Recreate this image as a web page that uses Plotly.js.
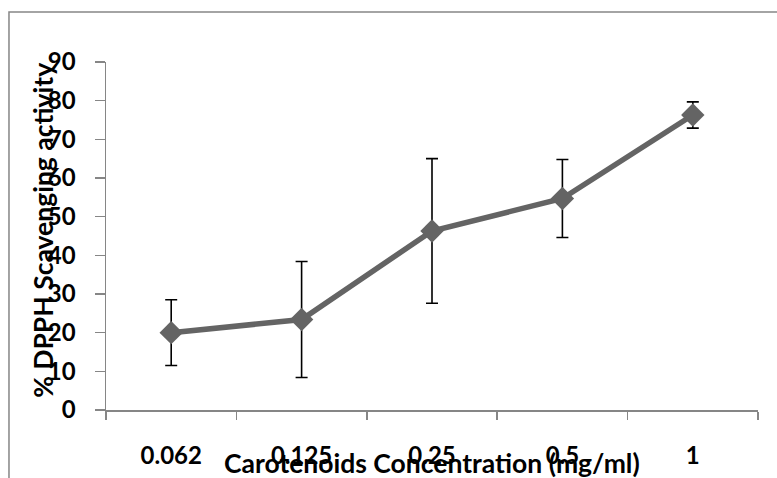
<!DOCTYPE html>
<html><head><meta charset="utf-8">
<script src="https://cdn.plot.ly/plotly-3.0.1.min.js"></script>
<style>html,body{margin:0;padding:0;background:#fff}#chart{width:777px;height:478px}</style>
</head><body><div id="chart"></div>
<script>
const categories = ['0.062', '0.125', '0.25', '0.5', '1'];
const scavenging = [20.0, 23.4, 46.3, 54.7, 76.3];
const errors = [8.5, 15.0, 18.7, 10.1, 3.4];
const yTicks = [0, 10, 20, 30, 40, 50, 60, 70, 80, 90];
const xTitle = 'Carotenoids Concentration (mg/ml)';
const yTitle = '% DPPH Scavenging activity';

const font = 'Lato, "Open Sans", sans-serif';
const trace = {
  x: categories, y: scavenging, type: 'scatter', mode: 'lines+markers',
  line: {color: '#646464', width: 5.5},
  marker: {symbol: 'diamond', size: 18, color: '#646464'},
  error_y: {type: 'data', array: errors, visible: true, color: '#000', thickness: 1.6, width: 6}
};
const layout = {
  width: 777, height: 478,
  margin: {l: 106, r: 19, t: 62, b: 68},
  paper_bgcolor: '#fff', plot_bgcolor: '#fff',
  showlegend: false,
  font: {family: font, size: 24, color: '#000', weight: 'bold'},
  xaxis: {type: 'category', tickson: 'boundaries', ticks: 'outside', ticklen: 8, tickcolor: '#868686', tickwidth: 1.5,
          showline: true, linecolor: '#868686', linewidth: 1.5, showgrid: false, zeroline: false,
          ticklabelstandoff: 24, tickfont: {family: font, size: 24, weight: 'bold'}, range: [-0.5, 4.5]},
  yaxis: {range: [0, 90], tickvals: yTicks, ticks: 'outside', ticklen: 10, tickcolor: '#868686', tickwidth: 1.5,
          showline: true, linecolor: '#868686', linewidth: 1.5, showgrid: false, zeroline: false,
          ticklabelstandoff: 14, tickfont: {family: font, size: 24, weight: 'bold'}},
  annotations: [
    {text: xTitle, xref: 'paper', yref: 'paper', x: 0.5, y: -0.152, showarrow: false, yanchor: 'middle',
     font: {family: font, size: 26.5, weight: 'bold'}},
    {text: yTitle, xref: 'paper', yref: 'paper', x: -0.097, y: 0.517, showarrow: false, textangle: -90,
     xanchor: 'center', yanchor: 'middle', font: {family: font, size: 26.5, weight: 'bold'}}
  ],
  shapes: [
    {type: 'rect', xref: 'paper', yref: 'paper', x0: -0.1488, x1: 1.2, y0: -0.4, y1: 1.1437,
     line: {color: '#868686', width: 1.5}, layer: 'below'}
  ]
};
Plotly.newPlot('chart', [trace], layout, {displayModeBar: false, staticPlot: true});
</script></body></html>
